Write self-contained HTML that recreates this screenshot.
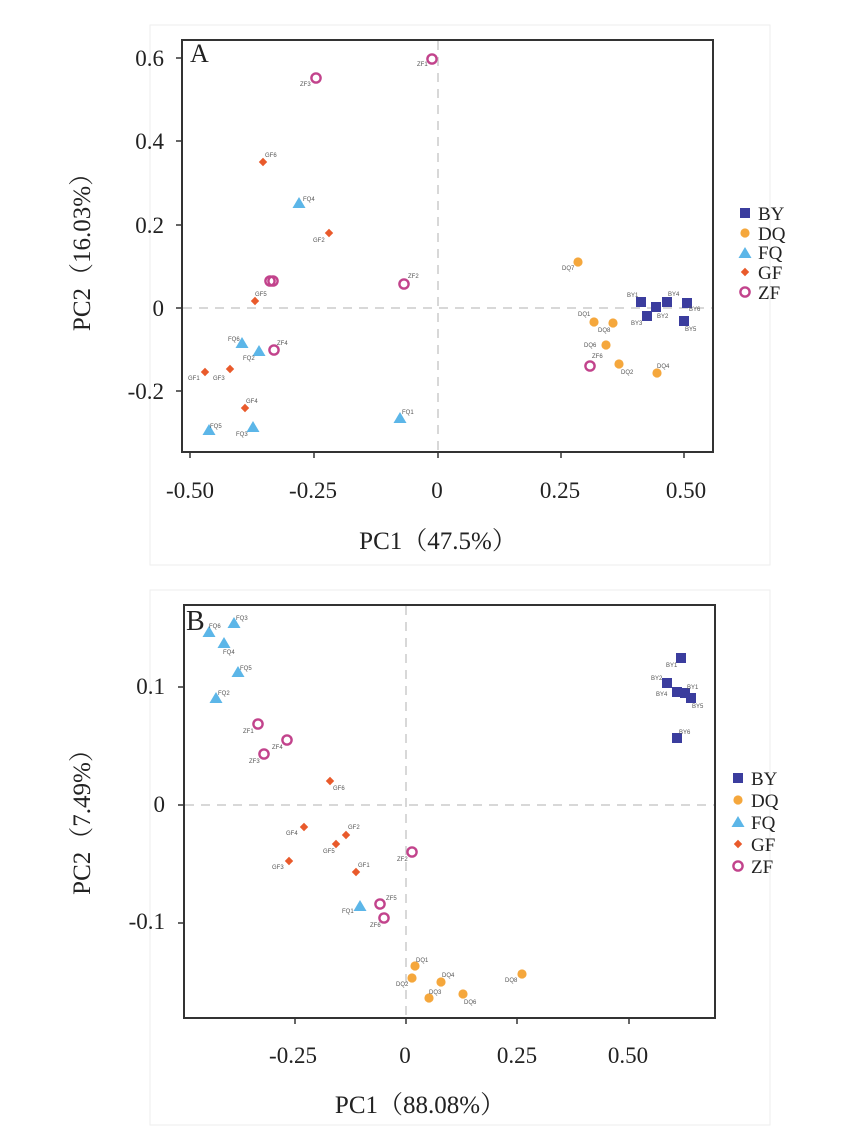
<!DOCTYPE html>
<html><head><meta charset="utf-8"><style>
html,body{margin:0;padding:0;background:#fff;}
svg{display:block;}
text{font-family:"Liberation Serif","Noto Serif CJK SC",serif;fill:#222;}
.t{font-size:23px;}
.lb text{font-family:"Liberation Sans",sans-serif;font-size:6px;fill:#555;}
.lg{font-size:19px;}
</style></head><body>
<svg width="851" height="1146" viewBox="0 0 851 1146" xmlns="http://www.w3.org/2000/svg">
<defs>
<rect id="sq" x="-5" y="-5" width="10" height="10" fill="#3b3d9e"/>
<circle id="ci" r="4.6" fill="#f5a73c"/>
<polygon id="tr" points="0,-6 6.5,5 -6.5,5" fill="#5cb6e8"/>
<polygon id="di" points="0,-4.2 4.2,0 0,4.2 -4.2,0" fill="#e95a2b"/>
<circle id="ri" r="4.6" fill="none" stroke="#c2438c" stroke-width="2.4"/>
</defs>
<rect x="150" y="25" width="620" height="540" fill="none" stroke="#eee" stroke-width="1"/>
<rect x="150" y="590" width="620" height="535" fill="none" stroke="#eee" stroke-width="1"/>

<rect x="182" y="40" width="531" height="412" fill="none" stroke="#333" stroke-width="2"/>
<line x1="438" y1="41" x2="438" y2="451" stroke="#ccc" stroke-width="1.5" stroke-dasharray="9,7"/>
<line x1="183" y1="308" x2="712" y2="308" stroke="#ccc" stroke-width="1.5" stroke-dasharray="9,7"/>
<g stroke="#333" stroke-width="1.5">
<line x1="190" y1="452" x2="190" y2="458"/><line x1="314" y1="452" x2="314" y2="458"/><line x1="438" y1="452" x2="438" y2="458"/><line x1="561" y1="452" x2="561" y2="458"/><line x1="684" y1="452" x2="684" y2="458"/>
<line x1="176" y1="58" x2="182" y2="58"/><line x1="176" y1="141" x2="182" y2="141"/><line x1="176" y1="225" x2="182" y2="225"/><line x1="176" y1="308" x2="182" y2="308"/><line x1="176" y1="391" x2="182" y2="391"/>
</g>
<text x="190" y="62" font-size="26">A</text>
<g class="t" text-anchor="middle">
<text x="190" y="498">-0.50</text><text x="313" y="498">-0.25</text><text x="437" y="498">0</text><text x="560" y="498">0.25</text><text x="686" y="498">0.50</text>
</g>
<g class="t" text-anchor="end">
<text x="164" y="66">0.6</text><text x="164" y="149">0.4</text><text x="164" y="233">0.2</text><text x="164" y="316">0</text><text x="164" y="399">-0.2</text>
</g>
<text x="438" y="549" text-anchor="middle" font-size="25">PC1（47.5%）</text>
<text transform="translate(90,246) rotate(-90)" text-anchor="middle" font-size="25">PC2（16.03%）</text>

<use href="#ri" x="432" y="59"/><use href="#ri" x="316" y="78"/><use href="#ri" x="273" y="281"/><use href="#ri" x="270" y="281"/><use href="#ri" x="404" y="284"/><use href="#ri" x="590" y="366"/><use href="#ri" x="274" y="350"/>
<use href="#di" x="263" y="162"/><use href="#di" x="329" y="233"/><use href="#di" x="255" y="301"/><use href="#di" x="205" y="372"/><use href="#di" x="230" y="369"/><use href="#di" x="245" y="408"/>
<use href="#tr" x="299" y="203"/><use href="#tr" x="242" y="343"/><use href="#tr" x="259" y="351"/><use href="#tr" x="400" y="418"/><use href="#tr" x="209" y="430"/><use href="#tr" x="253" y="427"/>
<use href="#ci" x="578" y="262"/><use href="#ci" x="594" y="322"/><use href="#ci" x="613" y="323"/><use href="#ci" x="606" y="345"/><use href="#ci" x="619" y="364"/><use href="#ci" x="657" y="373"/>
<use href="#sq" x="641" y="302"/><use href="#sq" x="656" y="307"/><use href="#sq" x="667" y="302"/><use href="#sq" x="687" y="303"/><use href="#sq" x="647" y="316"/><use href="#sq" x="684" y="321"/>
<g class="lb">
<text x="417" y="66">ZF1</text><text x="300" y="86">ZF3</text><text x="265" y="157">GF6</text><text x="303" y="201">FQ4</text><text x="313" y="242">GF2</text><text x="562" y="270">DQ7</text><text x="408" y="278">ZF2</text><text x="255" y="296">GF5</text><text x="627" y="297">BY1</text><text x="668" y="296">BY4</text><text x="689" y="311">BY6</text><text x="657" y="318">BY2</text><text x="631" y="325">BY3</text><text x="685" y="331">BY5</text><text x="578" y="316">DQ1</text><text x="598" y="332">DQ8</text><text x="584" y="347">DQ6</text><text x="592" y="358">ZF6</text><text x="621" y="374">DQ2</text><text x="657" y="368">DQ4</text><text x="228" y="341">FQ6</text><text x="243" y="360">FQ2</text><text x="277" y="345">ZF4</text><text x="188" y="380">GF1</text><text x="213" y="380">GF3</text><text x="246" y="403">GF4</text><text x="402" y="414">FQ1</text><text x="210" y="428">FQ5</text><text x="236" y="436">FQ3</text>
</g>
<g class="lg">
<use href="#sq" x="745" y="213"/><text x="758" y="220">BY</text>
<use href="#ci" x="745" y="233"/><text x="758" y="240">DQ</text>
<use href="#tr" x="745" y="253"/><text x="758" y="259">FQ</text>
<use href="#di" x="745" y="272"/><text x="758" y="279">GF</text>
<use href="#ri" x="745" y="292"/><text x="758" y="299">ZF</text>
</g>

<rect x="184" y="605" width="531" height="413" fill="none" stroke="#333" stroke-width="2"/>
<line x1="406" y1="606" x2="406" y2="1017" stroke="#ccc" stroke-width="1.5" stroke-dasharray="9,7"/>
<line x1="185" y1="805" x2="714" y2="805" stroke="#ccc" stroke-width="1.5" stroke-dasharray="9,7"/>
<g stroke="#333" stroke-width="1.5">
<line x1="295" y1="1018" x2="295" y2="1024"/><line x1="406" y1="1018" x2="406" y2="1024"/><line x1="517" y1="1018" x2="517" y2="1024"/><line x1="629" y1="1018" x2="629" y2="1024"/>
<line x1="178" y1="687" x2="184" y2="687"/><line x1="178" y1="805" x2="184" y2="805"/><line x1="178" y1="923" x2="184" y2="923"/>
</g>
<text x="186" y="630" font-size="28">B</text>
<g class="t" text-anchor="middle">
<text x="293" y="1063">-0.25</text><text x="405" y="1063">0</text><text x="517" y="1063">0.25</text><text x="628" y="1063">0.50</text>
</g>
<g class="t" text-anchor="end">
<text x="165" y="694">0.1</text><text x="165" y="812">0</text><text x="165" y="929">-0.1</text>
</g>
<text x="420" y="1113" text-anchor="middle" font-size="25">PC1（88.08%）</text>
<text transform="translate(90,816) rotate(-90)" text-anchor="middle" font-size="25">PC2（7.49%）</text>

<use href="#tr" x="234" y="623"/><use href="#tr" x="209" y="632"/><use href="#tr" x="224" y="643"/><use href="#tr" x="238" y="672"/><use href="#tr" x="216" y="698"/><use href="#tr" x="360" y="906"/>
<use href="#ri" x="258" y="724"/><use href="#ri" x="287" y="740"/><use href="#ri" x="264" y="754"/><use href="#ri" x="412" y="852"/><use href="#ri" x="380" y="904"/><use href="#ri" x="384" y="918"/>
<use href="#di" x="330" y="781"/><use href="#di" x="304" y="827"/><use href="#di" x="346" y="835"/><use href="#di" x="336" y="844"/><use href="#di" x="289" y="861"/><use href="#di" x="356" y="872"/>
<use href="#ci" x="415" y="966"/><use href="#ci" x="412" y="978"/><use href="#ci" x="441" y="982"/><use href="#ci" x="522" y="974"/><use href="#ci" x="429" y="998"/><use href="#ci" x="463" y="994"/>
<use href="#sq" x="681" y="658"/><use href="#sq" x="667" y="683"/><use href="#sq" x="677" y="692"/><use href="#sq" x="685" y="693"/><use href="#sq" x="691" y="698"/><use href="#sq" x="677" y="738"/>
<g class="lb">
<text x="236" y="620">FQ3</text><text x="209" y="628">FQ6</text><text x="223" y="654">FQ4</text><text x="240" y="670">FQ5</text><text x="218" y="695">FQ2</text><text x="342" y="913">FQ1</text><text x="243" y="733">ZF1</text><text x="272" y="749">ZF4</text><text x="249" y="763">ZF3</text><text x="397" y="861">ZF2</text><text x="386" y="900">ZF5</text><text x="370" y="927">ZF6</text><text x="333" y="790">GF6</text><text x="286" y="835">GF4</text><text x="348" y="829">GF2</text><text x="323" y="853">GF5</text><text x="272" y="869">GF3</text><text x="358" y="867">GF1</text><text x="416" y="962">DQ1</text><text x="396" y="986">DQ2</text><text x="442" y="977">DQ4</text><text x="505" y="982">DQ8</text><text x="429" y="994">DQ3</text><text x="464" y="1004">DQ6</text><text x="666" y="667">BY1</text><text x="651" y="680">BY2</text><text x="687" y="689">BY1</text><text x="656" y="696">BY4</text><text x="692" y="708">BY5</text><text x="679" y="734">BY6</text>
</g>
<g class="lg">
<use href="#sq" x="738" y="778"/><text x="751" y="785">BY</text>
<use href="#ci" x="738" y="800"/><text x="751" y="807">DQ</text>
<use href="#tr" x="738" y="822"/><text x="751" y="829">FQ</text>
<use href="#di" x="738" y="844"/><text x="751" y="851">GF</text>
<use href="#ri" x="738" y="866"/><text x="751" y="873">ZF</text>
</g>
</svg>
</body></html>
